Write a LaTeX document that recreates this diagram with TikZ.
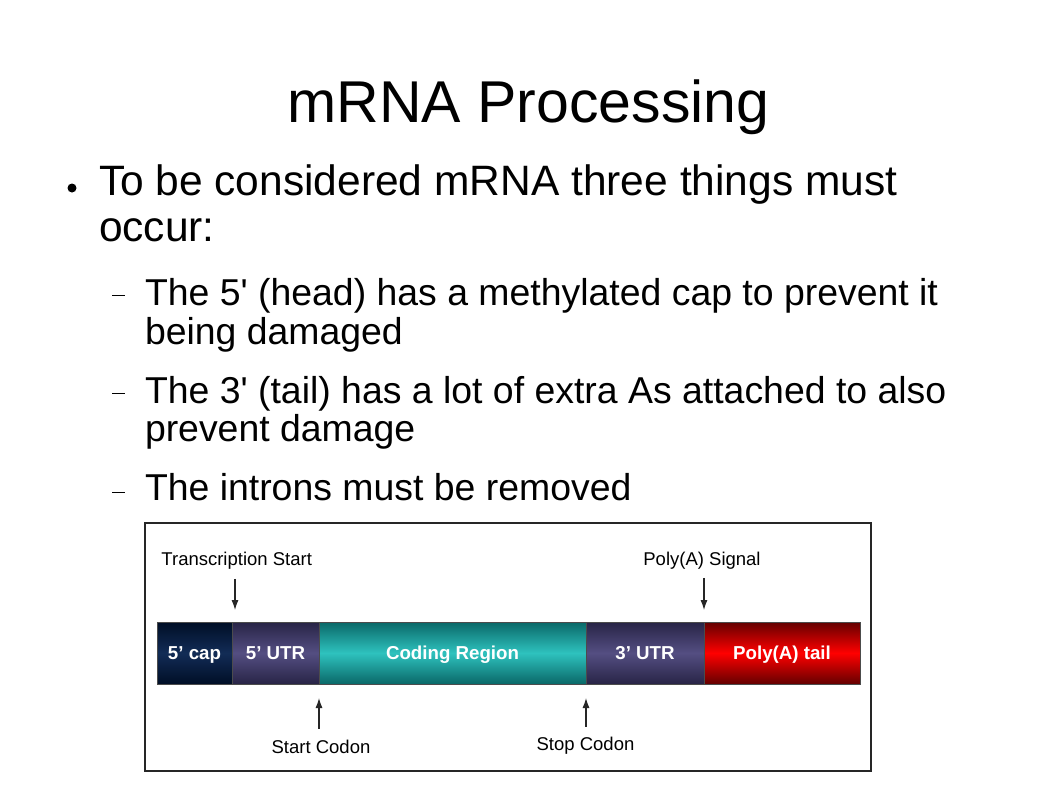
\documentclass[tikz,border=0pt]{standalone}
\usepackage{fontspec}
\setmainfont{Liberation Sans}
\usepackage{tikz}
\usetikzlibrary{arrows.meta,positioning}
\definecolor{capdark}{RGB}{0,14,38}
\definecolor{capmid}{RGB}{18,44,86}
\definecolor{utrdark}{RGB}{40,36,70}
\definecolor{utrmid}{RGB}{84,78,130}
\definecolor{codedark}{RGB}{10,104,104}
\definecolor{codemid}{RGB}{46,194,190}
\definecolor{taildark}{RGB}{100,0,0}
\definecolor{tailmid}{RGB}{255,0,0}
\begin{document}
\begin{tikzpicture}[x=1pt, y=-1pt, every node/.style={inner sep=0pt, outer sep=0pt},
	bigtxt/.style={anchor=base west, font=\fontsize{42.5}{47}\selectfont},
	subtxt/.style={anchor=base west, font=\fontsize{37.4}{40}\selectfont},
	seg/.style={rectangle, draw=black!70, line width=0.8pt, minimum height=62pt, text height=13.4pt, text depth=0pt, text=white, font=\fontsize{18.7}{20}\selectfont\bfseries},
	lbl/.style={anchor=base, font=\fontsize{18.5}{20}\selectfont},
	pointer/.style={-{Latex[length=10pt,width=7pt]}, line width=1.1pt, black!85}]
		\useasboundingbox[fill=white] (0,0) rectangle (1058,793);
		\node[anchor=base, font=\fontsize{59}{66}\selectfont] (title) at (528.5,122) {mRNA Processing};
		\node[circle, fill=black, minimum size=9pt] (dot) at (72,188) {};
		\node[bigtxt] (main1) at (99,195) {To be considered mRNA three things must};
		\node[bigtxt] (main2) at (99,241.7) {occur:};
		\foreach \y in {295,393.5,492}
			\draw[line width=0.9pt] (112,\y) -- (125,\y);
		\node[subtxt] (head1) at (145,305) {The 5\textquotesingle{} (head) has a methylated cap to prevent it};
		\node[subtxt] (head2) at (145,344) {being damaged};
		\node[subtxt] (tail1) at (145,403.3) {The 3\textquotesingle{} (tail) has a lot of extra As attached to also};
		\node[subtxt] (tail2) at (145,441) {prevent damage};
		\node[subtxt] (intron) at (145,500) {The introns must be removed};
		\draw[line width=1.3pt, black!85] (145,523) rectangle (871,771);
		\node[seg, minimum width=75pt, top color=capdark, bottom color=capdark, middle color=capmid, anchor=north west] (cap) at (157,622) {5’ cap};
		\node[seg, minimum width=87pt, top color=utrdark, bottom color=utrdark, middle color=utrmid] (utr5) [right=0pt of cap] {5’ UTR};
		\node[seg, minimum width=267pt, top color=codedark, bottom color=codedark, middle color=codemid] (coding) [right=0pt of utr5] {Coding Region};
		\node[seg, minimum width=118pt, top color=utrdark, bottom color=utrdark, middle color=utrmid] (utr3) [right=0pt of coding] {3’ UTR};
		\node[seg, minimum width=156pt, top color=taildark, bottom color=taildark, middle color=tailmid] (polya) [right=0pt of utr3] {Poly(A) tail};
		\node[lbl] (tstart) at (236.7,565) {Transcription Start};
		\node[lbl] (signal) at (702,565) {Poly(A) Signal};
		\node[lbl] (startcod) at (321,753) {Start Codon};
		\node[lbl] (stopcod) at (585.5,750) {Stop Codon};
		\draw[pointer, shorten <=10pt, shorten >=12pt] ([xshift=3pt]tstart.south -| cap.north east) -- ([xshift=3pt]cap.north east);
		\draw[pointer, shorten <=9pt, shorten >=12pt] (signal.south -| utr3.north east) -- (utr3.north east);
		\draw[pointer, shorten <=11pt, shorten >=14pt] (startcod.north -| utr5.south east) -- (utr5.south east);
		\draw[pointer, shorten <=10pt, shorten >=14pt] (stopcod.north -| coding.south east) -- (coding.south east);
	\end{tikzpicture}
\end{document}
